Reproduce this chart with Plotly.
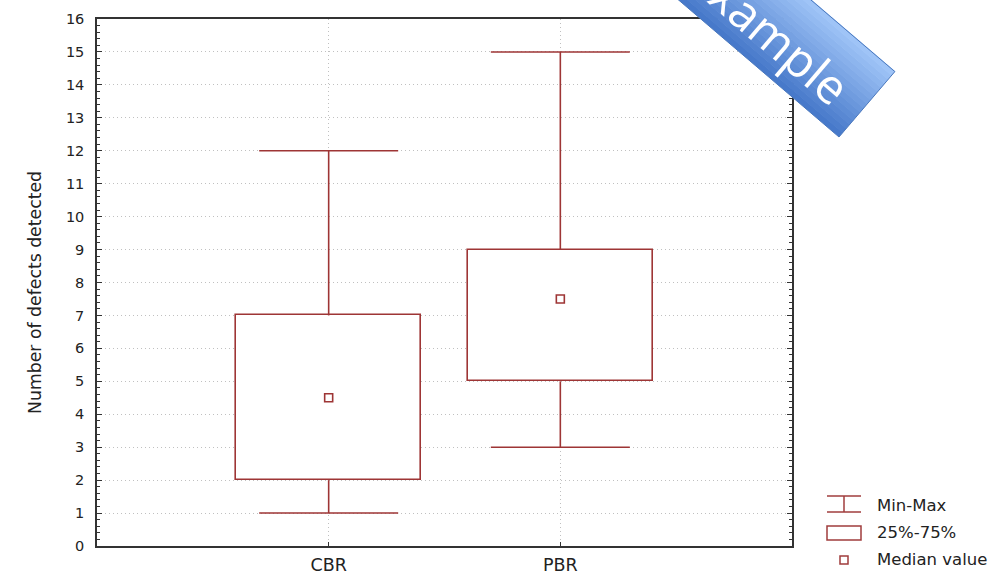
import math
import plotly.graph_objects as go

# ---- data ----
categories = ["CBR", "PBR"]
mins = [1, 3]
q1s = [2, 5]
medians = [4.5, 7.5]
q3s = [7, 9]
maxs = [12, 15]
legend_labels = ["Min-Max", "25%-75%", "Median value"]
y_title = "Number of defects detected"
banner_text = "Example"

RED = "#9e3535"
FONT = "DejaVu Sans"
W, H = 1001, 575
ML, MR, MT, MB = 97, 209, 19, 29
PW, PH = W - ML - MR, H - MT - MB
Y_BOT = H - MB


def px(x):
    return (x - ML) / PW


def py(y):
    return (Y_BOT - y) / PH


xpos = [i + 1 for i in range(len(categories))]
BOX_W = 0.8
CAP_W = 0.6

fig = go.Figure()

# boxes (25%-75%)
fig.add_trace(go.Bar(
    x=xpos, y=[b - a for a, b in zip(q1s, q3s)], base=q1s, width=BOX_W,
    marker=dict(color="white", line=dict(color=RED, width=1.6)),
    hoverinfo="skip",
))

# whiskers with caps
wx, wy = [], []
for x, lo, a, b, hi in zip(xpos, mins, q1s, q3s, maxs):
    wx += [x, x, None, x - CAP_W / 2, x + CAP_W / 2, None,
           x, x, None, x - CAP_W / 2, x + CAP_W / 2, None]
    wy += [b, hi, None, hi, hi, None, a, lo, None, lo, lo, None]
fig.add_trace(go.Scatter(x=wx, y=wy, mode="lines",
                         line=dict(color=RED, width=1.6), hoverinfo="skip"))

# medians
fig.add_trace(go.Scatter(x=xpos, y=medians, mode="markers",
                         marker=dict(symbol="square-open", size=8, color=RED,
                                     line=dict(width=1.6, color=RED))))

fig.update_layout(
    width=W, height=H, autosize=False,
    margin=dict(l=ML, r=MR, t=MT, b=MB, pad=0, autoexpand=False),
    plot_bgcolor="white", paper_bgcolor="white",
    showlegend=False,
    font=dict(family=FONT, size=14, color="#222222"),
    bargap=0,
)

GRID = "#c0c0c0"
fig.update_xaxes(
    range=[0, 3], tickmode="array", tickvals=xpos, ticktext=categories,
    showline=True, linecolor="#333333", linewidth=1.5, mirror=True,
    ticks="inside", ticklen=4, tickcolor="#333333",
    showgrid=True, gridcolor=GRID, griddash="1px,3px", gridwidth=1,
    zeroline=False, ticklabelstandoff=2, automargin=False,
    tickfont=dict(family=FONT, size=17.5, color="#222222"),
)
fig.update_yaxes(
    range=[0, 16], dtick=1, tick0=0,
    showline=True, linecolor="#333333", linewidth=1.5, mirror="ticks",
    ticks="inside", ticklen=5, tickcolor="#333333",
    minor=dict(dtick=0.2, ticks="inside", ticklen=3, tickcolor="#333333", showgrid=False),
    showgrid=True, gridcolor=GRID, griddash="1px,3px", gridwidth=1,
    zeroline=False, ticklabelstandoff=8, automargin=False,
    tickfont=dict(family=FONT, size=14.5, color="#222222"),
)

# y-axis title
fig.add_annotation(x=px(35), y=py(293), xref="paper", yref="paper",
                   xanchor="center", yanchor="middle",
                   text=y_title, textangle=-90, showarrow=False,
                   font=dict(family=FONT, size=17.3, color="#222222"))

# ---- legend (drawn) ----
LC = "#a03c3c"
shapes = []
lx0, lx1, lxc = 827, 861, 844
for (xa, ya, xb, yb) in [(lx0, 496, lx1, 496), (lx0, 512, lx1, 512), (lxc, 496, lxc, 512)]:
    shapes.append(dict(type="line", xref="paper", yref="paper",
                       x0=px(xa), y0=py(ya), x1=px(xb), y1=py(yb),
                       line=dict(color=LC, width=1.5)))
shapes.append(dict(type="rect", xref="paper", yref="paper",
                   x0=px(lx0), y0=py(526), x1=px(lx1), y1=py(540),
                   line=dict(color=LC, width=1.5), fillcolor="white"))
shapes.append(dict(type="rect", xref="paper", yref="paper",
                   x0=px(lxc - 4), y0=py(556), x1=px(lxc + 4), y1=py(564),
                   line=dict(color=LC, width=1.5), fillcolor="white"))
for lab, yy in zip(legend_labels, [505, 532, 559]):
    fig.add_annotation(x=px(875), y=py(yy), xref="paper", yref="paper",
                       text=lab, showarrow=False, xanchor="left", yanchor="middle",
                       font=dict(family=FONT, size=16.5, color="#222222"))

# ---- "Example" banner (decoration) ----
ang = math.radians(40.5)
ux, uy = math.cos(ang), math.sin(ang)
nx, ny = math.sin(ang), -math.cos(ang)
Bx, By = 839, 137
BW = 86
L = 320
N = 16
c0 = (68, 118, 200)
c1 = (162, 199, 249)
for k in range(N):
    s0 = BW * k / N
    s1 = BW * (k + 1) / N + 0.6
    t = (k + 0.5) / N
    col = "rgb(%d,%d,%d)" % tuple(int(round(a + (b - a) * t)) for a, b in zip(c0, c1))
    pts = [(Bx + s0 * nx, By + s0 * ny), (Bx + s1 * nx, By + s1 * ny),
           (Bx + s1 * nx - L * ux, By + s1 * ny - L * uy),
           (Bx + s0 * nx - L * ux, By + s0 * ny - L * uy)]
    path = "M " + " L ".join("%f,%f" % (px(a), py(b)) for a, b in pts) + " Z"
    shapes.append(dict(type="path", xref="paper", yref="paper", path=path,
                       fillcolor=col, line=dict(width=0), layer="above"))
outline = [(Bx, By), (Bx + BW * nx, By + BW * ny),
           (Bx + BW * nx - L * ux, By + BW * ny - L * uy), (Bx - L * ux, By - L * uy)]
shapes.append(dict(type="path", xref="paper", yref="paper",
                   path="M " + " L ".join("%f,%f" % (px(a), py(b)) for a, b in outline) + " Z",
                   fillcolor="rgba(0,0,0,0)", line=dict(color="#4a78bd", width=1), layer="above"))
fig.update_layout(shapes=shapes)

fig.add_annotation(x=px(770), y=py(31), xref="paper", yref="paper",
                   xanchor="center", yanchor="middle",
                   text=banner_text, textangle=40.5, showarrow=False,
                   font=dict(family="Open Sans", size=48, color="white"))

fig.write_html(
    "out.html",
    config={"displayModeBar": False},
    post_script="document.body.style.margin='0';document.body.style.overflow='hidden';",
)
